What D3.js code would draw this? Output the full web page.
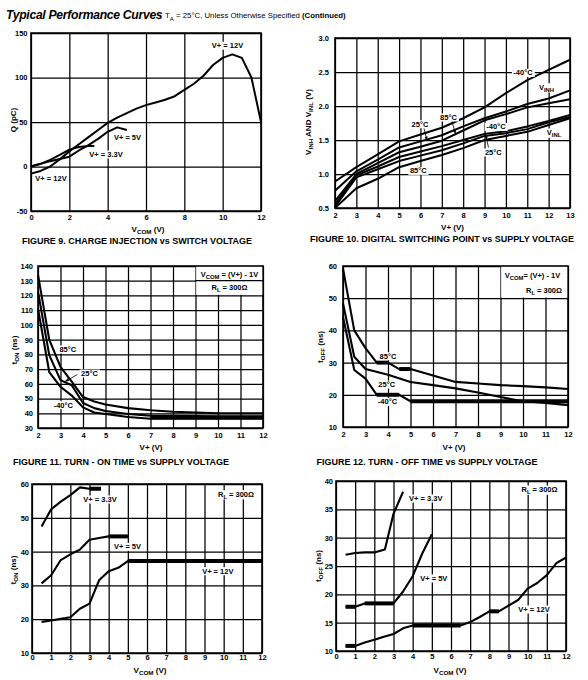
<!DOCTYPE html>
<html><head><meta charset="utf-8">
<script src="https://cdn.jsdelivr.net/npm/d3@7"></script>
<style>body{margin:0;background:#fff}</style>
</head><body>
<svg id="c" width="588" height="680" style="background:#fff"></svg>
<script>
// ================= DATA =================
// Figure 9 : charge injection vs switch voltage
const f9XTicks = [0,2,4,6,8,10,12];
const f9YTicks = [-50,0,50,100,150];
const f9V12 = [[0,-8],[0.5,-5],[1,0],[1.5,8],[2,17],[2.5,25],[3,33],[3.5,41],[4,49],[4.5,55],[5,60],[5.5,65],[6,69],[6.5,72],[7,75],[7.5,79],[8,86],[8.5,93],[9,102],[9.5,114],[10,122],[10.5,126],[11,122],[11.5,100],[12,50]];
const f9V5 = [[0,0],[1,6],[2,11],[2.5,18],[3,24],[3.5,31],[4,39],[4.5,44],[5,41]];
const f9V33 = [[0,0],[0.5,3],[1,7.5],[1.5,13],[2,19],[2.5,22],[3,23],[3.3,23]];

// Figure 10 : digital switching point vs supply voltage
const f10XTicks = [2,3,4,5,6,7,8,9,10,11,12,13];
const f10YTicks = [0.5,1.0,1.5,2.0,2.5,3.0];
const f10Vplus = [2,3,4,5,6,7,8,9,10,11,12,13];
const f10InhM40 = [0.89,1.10,1.29,1.48,1.58,1.68,1.82,1.98,2.19,2.38,2.53,2.68];
const f10Inh25  = [0.755,1.04,1.21,1.39,1.48,1.57,1.70,1.82,1.92,2.03,2.11,2.23];
const f10Inh85  = [0.60,1.00,1.16,1.32,1.40,1.49,1.64,1.79,1.88,1.98,2.04,2.10];
const f10InlM40 = [0.55,0.98,1.11,1.25,1.33,1.41,1.50,1.59,1.63,1.70,1.78,1.87];
const f10Inl25  = [0.52,0.95,1.07,1.19,1.27,1.35,1.45,1.56,1.60,1.66,1.76,1.84];
const f10Inl85  = [0.50,0.79,0.93,1.10,1.19,1.28,1.38,1.50,1.56,1.62,1.72,1.82];

// Figure 11 : turn-on time vs supply voltage
const f11XTicks = [2,3,4,5,6,7,8,9,10,11,12];
const f11YTicks = [30,40,50,60,70,80,90,100,110,120,130,140];
const f11Vplus = [2,2.5,3,3.5,4,4.5,5,6,7,8,9,10,11,12];
const f11T85  = [134,90,71.5,61.5,51,48,46,43.5,42,41,40.5,40,40,40];
const f11T25  = [122.5,79.5,62.5,59,47,43.5,41.5,39.5,38.3,38.2,38.1,38,38,38];
const f11TM40 = [111,68,58,52,44,40.5,39.5,37.5,36.3,36.3,36.3,36.3,36.3,36.3];
const f11Thick = [[7,12,37.1]];

// Figure 12 : turn-off time vs supply voltage
const f12XTicks = [2,3,4,5,6,7,8,9,10,11,12];
const f12YTicks = [10,20,30,40,50,60];
const f12T85 = [[2,59.2],[2.5,40],[3,34.5],[3.5,30],[4,30],[4.5,28],[5,28],[6,26],[7,24],[8,23.5],[9,23],[10,22.7],[11,22.3],[12,21.8]];
const f12T25 = [[2,48.4],[2.5,31.8],[3,28],[4,26.2],[5,24],[6,23],[7,22],[8,20.7],[9,19.3],[10,18],[11,17.5],[12,16.8]];
const f12TM40 = [[2,44.2],[2.5,27.7],[3,25],[3.5,20],[4.5,20],[5,18],[12,18]];
const f12Thick = [[3.5,4,30],[4.5,5,28],[3.5,4.5,20],[5,12,18]];

// Figure 13 : turn-on time vs VCOM
const f13XTicks = [0,1,2,3,4,5,6,7,8,9,10,11,12];
const f13YTicks = [10,20,30,40,50,60];
const f13V33 = [[0.5,47.4],[1,52.5],[1.5,54.8],[2,56.7],[2.5,59],[3,58.6],[3.6,58.6]];
const f13V5 = [[0.5,30.6],[1,33],[1.5,37.5],[2,39.2],[2.5,40.6],[3,43.5],[3.5,44],[4,44.5],[5,44.5]];
const f13V12 = [[0.5,19.2],[1,19.6],[1.5,20.1],[2,20.6],[2.5,23.1],[3,24.6],[3.5,31.5],[4,34.2],[4.5,35.2],[5,37.2],[12,37.2]];
const f13Thick = [[3,3.6,58.6],[4,5,44.5],[5,12,37.2]];

// Figure 14 : turn-off time vs VCOM
const f14XTicks = [0,1,2,3,4,5,6,7,8,9,10,11,12];
const f14YTicks = [10,15,20,25,30,35,40];
const f14V33 = [[0.5,27],[1,27.3],[1.5,27.4],[2,27.4],[2.55,27.9],[3,34.2],[3.5,38.1]];
const f14V5 = [[0.5,17.8],[1,17.8],[1.5,18.4],[3,18.4],[3.5,20.5],[4,23.2],[4.5,27.2],[5,30.6]];
const f14V12 = [[0.5,10.9],[1,10.9],[1.5,11.5],[2,12],[2.5,12.5],[3,13],[3.5,14],[4,14.5],[6.5,14.5],[7,15.1],[7.5,16],[8,17],[8.5,17],[9,18],[9.5,19],[10,21],[10.5,22],[11,23.4],[11.5,25.5],[12,26.5]];
const f14Thick = [[0.5,1,17.8],[1.5,3,18.4],[0.5,1,10.9],[4,6.5,14.5],[8,8.5,17]];

// ================= DRAWING =================
const FONT = '"Liberation Sans", Arial, Helvetica, sans-serif';
const svg = d3.select('#c');
const defs = svg.append('defs');
defs.append('marker').attr('id','arr').attr('viewBox','0 0 10 10').attr('refX',10).attr('refY',5)
  .attr('markerWidth',5).attr('markerHeight',5).attr('orient','auto')
  .append('path').attr('d','M0,1L10,5L0,9Z').attr('fill','#000');

function rich(parent, x, y, parts, o = {}) {
  const size = o.size || 7.5;
  const t = parent.append('text')
    .attr('x', x).attr('y', o.rotate ? y : y + size * 0.36)
    .attr('font-family', FONT).attr('font-size', size)
    .attr('font-weight', o.weight || 'bold')
    .attr('text-anchor', o.anchor || 'middle').attr('fill', '#000');
  if (o.rotate) t.attr('transform', `rotate(-90,${x},${y})`).attr('dy', size * 0.36);
  let shift = 0;
  parts.forEach(p => {
    const s = typeof p === 'string' ? {t: p} : p;
    const ts = t.append('tspan').text(s.t);
    const target = s.sub ? size * 0.3 : (s.sup ? -size * 0.4 : 0);
    if (target !== shift) { ts.attr('dy', target - shift); shift = target; }
    if (s.sub || s.sup) ts.attr('font-size', size * 0.78);
    if (s.w) ts.attr('font-weight', s.w);
  });
  if (o.len) t.attr('textLength', o.len).attr('lengthAdjust', 'spacingAndGlyphs');
  if (o.bg) {
    const bb = t.node().getBBox();
    parent.insert('rect', () => t.node())
      .attr('x', bb.x - 1.5).attr('y', bb.y + 0.5).attr('width', bb.width + 3).attr('height', bb.height - 1)
      .attr('fill', '#fff');
  }
  return t;
}

function panel(c) {
  const g = svg.append('g');
  const x = d3.scaleLinear().domain(c.xd).range([c.l, c.r]);
  const y = d3.scaleLinear().domain(c.yd).range([c.b, c.t]);
  const gx = g.append('g').attr('transform', `translate(0,${c.b})`)
    .call(d3.axisBottom(x).tickValues(c.xt).tickSize(-(c.b - c.t)).tickPadding(c.xpad).tickFormat(c.xf || (d => d)));
  const gy = g.append('g').attr('transform', `translate(${c.l},0)`)
    .call(d3.axisLeft(y).tickValues(c.yt).tickSize(-(c.r - c.l)).tickPadding(c.ypad).tickFormat(c.yf || (d => d)));
  [gx, gy].forEach(a => {
    a.select('.domain').remove();
    a.selectAll('line').attr('stroke', '#000').attr('stroke-width', 1.25);
    a.selectAll('text').attr('font-family', FONT).attr('font-size', 7.5)
      .attr('font-weight', 'bold').attr('fill', '#000');
  });
  g.append('rect').attr('x', c.l).attr('y', c.t).attr('width', c.r - c.l).attr('height', c.b - c.t)
    .attr('fill', 'none').attr('stroke', '#000').attr('stroke-width', 1.6);
  const line = d3.line().x(d => x(d[0])).y(d => y(d[1]));
  return {g, x, y, line};
}

function curves(P, list, w = 2) {
  P.g.selectAll(null).data(list).join('path')
    .attr('d', d => P.line(d)).attr('fill', 'none').attr('stroke', '#000')
    .attr('stroke-width', w).attr('stroke-linejoin', 'round');
}
function thick(P, segs, w = 4) {
  P.g.selectAll(null).data(segs).join('line')
    .attr('x1', d => P.x(d[0])).attr('x2', d => P.x(d[1]))
    .attr('y1', d => P.y(d[2])).attr('y2', d => P.y(d[2]))
    .attr('stroke', '#000').attr('stroke-width', w);
}
function leader(P, x1, y1, x2, y2) {
  P.g.append('line').attr('x1', x1).attr('y1', y1).attr('x2', x2).attr('y2', y2)
    .attr('stroke', '#000').attr('stroke-width', 0.8).attr('marker-end', 'url(#arr)');
}
function whiteBox(P, x0, x1, y0, y1, keepY) {
  P.g.append('rect').attr('x', P.x(x0) + 0.7).attr('y', P.y(y1) + 0.8)
    .attr('width', P.x(x1) - P.x(x0) - 1.5).attr('height', P.y(y0) - P.y(y1) - 1.4).attr('fill', '#fff');
  if (keepY != null) P.g.append('line').attr('x1', P.x(x0)).attr('x2', P.x(x1))
    .attr('y1', P.y(keepY)).attr('y2', P.y(keepY)).attr('stroke', '#000').attr('stroke-width', 1.25);
}

// ---------- Title ----------
svg.append('text').attr('x', 6).attr('y', 18.5).attr('font-family', FONT).attr('font-size', 12.2)
  .attr('font-weight', 'bold').attr('font-style', 'italic').attr('fill', '#000')
  .attr('letter-spacing', -0.3)
  .text('Typical Performance Curves');
rich(svg, 165, 15.5, ['T', {t: 'A', sub: true}, ' = 25°C, Unless Otherwise Specified ', {t: '(Continued)', w: 'bold'}],
  {size: 7.8, weight: 'normal', anchor: 'start'});

// ---------- Figure 9 ----------
const P9 = panel({l: 31, t: 33, r: 261, b: 211, xd: [0, 12], yd: [-50, 150], xt: f9XTicks, yt: f9YTicks, xpad: 4, ypad: 3.5});
curves(P9, [f9V12, f9V5, f9V33]);
rich(P9.g, 227.5, 45.5, ['V+ = 12V'], {bg: true});
rich(P9.g, 127.5, 137.3, ['V+ = 5V'], {bg: true});
rich(P9.g, 106, 154.3, ['V+ = 3.3V'], {bg: true});
rich(P9.g, 51, 178.3, ['V+ = 12V'], {bg: true});
rich(svg, 148, 229, ['V', {t: 'COM', sub: true}, ' (V)'], {size: 8});
rich(svg, 13, 120, ['Q (pC)'], {size: 8, rotate: true});
rich(svg, 137, 241.5, ['FIGURE 9.  CHARGE INJECTION vs SWITCH VOLTAGE'], {size: 8.3, len: 230});

// ---------- Figure 10 ----------
const P10 = panel({l: 335, t: 38, r: 570, b: 208, xd: [2, 13], yd: [0.5, 3], xt: f10XTicks, yt: f10YTicks, xpad: 5, ypad: 6, yf: d3.format('.1f')});
const z = arr => f10Vplus.map((v, i) => [v, arr[i]]);
curves(P10, [z(f10InhM40), z(f10Inh25), z(f10Inh85), z(f10InlM40), z(f10Inl25), z(f10Inl85)]);
rich(P10.g, 523, 72.7, ['-40°C'], {bg: true});
rich(P10.g, 546.5, 87, ['V', {t: 'INH', sub: true}], {bg: true});
rich(P10.g, 420, 124, ['25°C'], {bg: true});
rich(P10.g, 448.5, 117.3, ['85°C'], {bg: true});
rich(P10.g, 496, 126.7, ['-40°C'], {bg: true});
rich(P10.g, 554, 132.3, ['V', {t: 'INL', sub: true}], {bg: true});
rich(P10.g, 493.3, 152.3, ['25°C'], {bg: true});
rich(P10.g, 418.3, 170.7, ['85°C'], {bg: true});
leader(P10, 424, 128.5, 427, 140.5);
leader(P10, 452, 121.5, 455.5, 134);
leader(P10, 488.5, 147.5, 485.5, 134);
rich(svg, 452.5, 227, ['V+ (V)'], {size: 8});
rich(svg, 308, 122, ['V', {t: 'INH', sub: true}, ' AND V', {t: 'INL', sub: true}, ' (V)'], {size: 8, rotate: true});
rich(svg, 442, 239.5, ['FIGURE 10.  DIGITAL SWITCHING POINT vs SUPPLY VOLTAGE'], {size: 8.3, len: 264});

// ---------- Figure 11 ----------
const P11 = panel({l: 38, t: 266, r: 263, b: 428, xd: [2, 12], yd: [30, 140], xt: f11XTicks, yt: f11YTicks, xpad: 5, ypad: 5});
whiteBox(P11, 9, 12, 120, 140, 130);
const z11 = arr => f11Vplus.map((v, i) => [v, arr[i]]);
curves(P11, [z11(f11T85), z11(f11T25), z11(f11TM40)], 2.1);
thick(P11, f11Thick, 3.5);
rich(P11.g, 67.8, 349.3, ['85°C'], {bg: true});
rich(P11.g, 89.5, 373.3, ['25°C'], {bg: true});
rich(P11.g, 63.3, 405, ['-40°C'], {bg: true});
leader(P11, 77.5, 374.5, 65, 381.5);
rich(P11.g, 229.5, 274, ['V', {t: 'COM', sub: true}, ' = (V+) - 1V']);
rich(P11.g, 229.5, 287, ['R', {t: 'L', sub: true}, ' = 300Ω']);
rich(svg, 151, 447, ['V+ (V)'], {size: 8});
rich(svg, 14, 350, ['t', {t: 'ON', sub: true}, ' (ns)'], {size: 8, rotate: true});
rich(svg, 121, 462.3, ['FIGURE 11.  TURN - ON TIME vs SUPPLY VOLTAGE'], {size: 8.3, len: 216});

// ---------- Figure 12 ----------
const P12 = panel({l: 343, t: 266, r: 568, b: 427, xd: [2, 12], yd: [10, 60], xt: f12XTicks, yt: f12YTicks, xpad: 5, ypad: 6});
whiteBox(P12, 9, 12, 50, 60, null);
curves(P12, [f12T85, f12T25, f12TM40], 2.1);
thick(P12, f12Thick);
rich(P12.g, 388, 356, ['85°C'], {bg: true});
rich(P12.g, 386.7, 384.3, ['25°C'], {bg: true});
rich(P12.g, 387.5, 401.7, ['-40°C'], {bg: true});
rich(P12.g, 532.5, 275, ['V', {t: 'COM', sub: true}, '= (V+) - 1V']);
rich(P12.g, 544, 290, ['R', {t: 'L', sub: true}, ' = 300Ω']);
rich(svg, 454, 447, ['V+ (V)'], {size: 8});
rich(svg, 320, 347, ['t', {t: 'OFF', sub: true}, ' (ns)'], {size: 8, rotate: true});
rich(svg, 427, 462.3, ['FIGURE 12.  TURN - OFF TIME vs SUPPLY VOLTAGE'], {size: 8.3, len: 221});

// ---------- Figure 13 ----------
const P13 = panel({l: 32, t: 484, r: 262, b: 653, xd: [0, 12], yd: [10, 60], xt: f13XTicks, yt: f13YTicks, xpad: 1.5, ypad: 3});
curves(P13, [f13V33, f13V5, f13V12], 2.1);
thick(P13, f13Thick);
rich(P13.g, 100, 499.3, ['V+ = 3.3V'], {bg: true});
rich(P13.g, 127.5, 546.7, ['V+ = 5V'], {bg: true});
rich(P13.g, 217.8, 571, ['V+ = 12V'], {bg: true});
rich(P13.g, 236, 494, ['R', {t: 'L', sub: true}, ' = 300Ω'], {bg: true});
rich(svg, 150, 670, ['V', {t: 'COM', sub: true}, ' (V)'], {size: 8});
rich(svg, 13, 570, ['t', {t: 'ON', sub: true}, ' (ns)'], {size: 8, rotate: true});

// ---------- Figure 14 ----------
const P14 = panel({l: 336, t: 481, r: 566, b: 651, xd: [0, 12], yd: [10, 40], xt: f14XTicks, yt: f14YTicks, xpad: 3, ypad: 3});
curves(P14, [f14V33, f14V5, f14V12], 2.1);
thick(P14, f14Thick);
rich(P14.g, 425.8, 498.3, ['V+ = 3.3V'], {bg: true});
rich(P14.g, 433.8, 578.3, ['V+ = 5V'], {bg: true});
rich(P14.g, 534, 609.3, ['V+ = 12V'], {bg: true});
rich(P14.g, 539.5, 489.3, ['R', {t: 'L', sub: true}, ' = 300Ω'], {bg: true});
rich(svg, 450, 670, ['V', {t: 'COM', sub: true}, ' (V)'], {size: 8});
rich(svg, 318, 566, ['t', {t: 'OFF', sub: true}, ' (ns)'], {size: 8, rotate: true});
</script>
</body></html>
